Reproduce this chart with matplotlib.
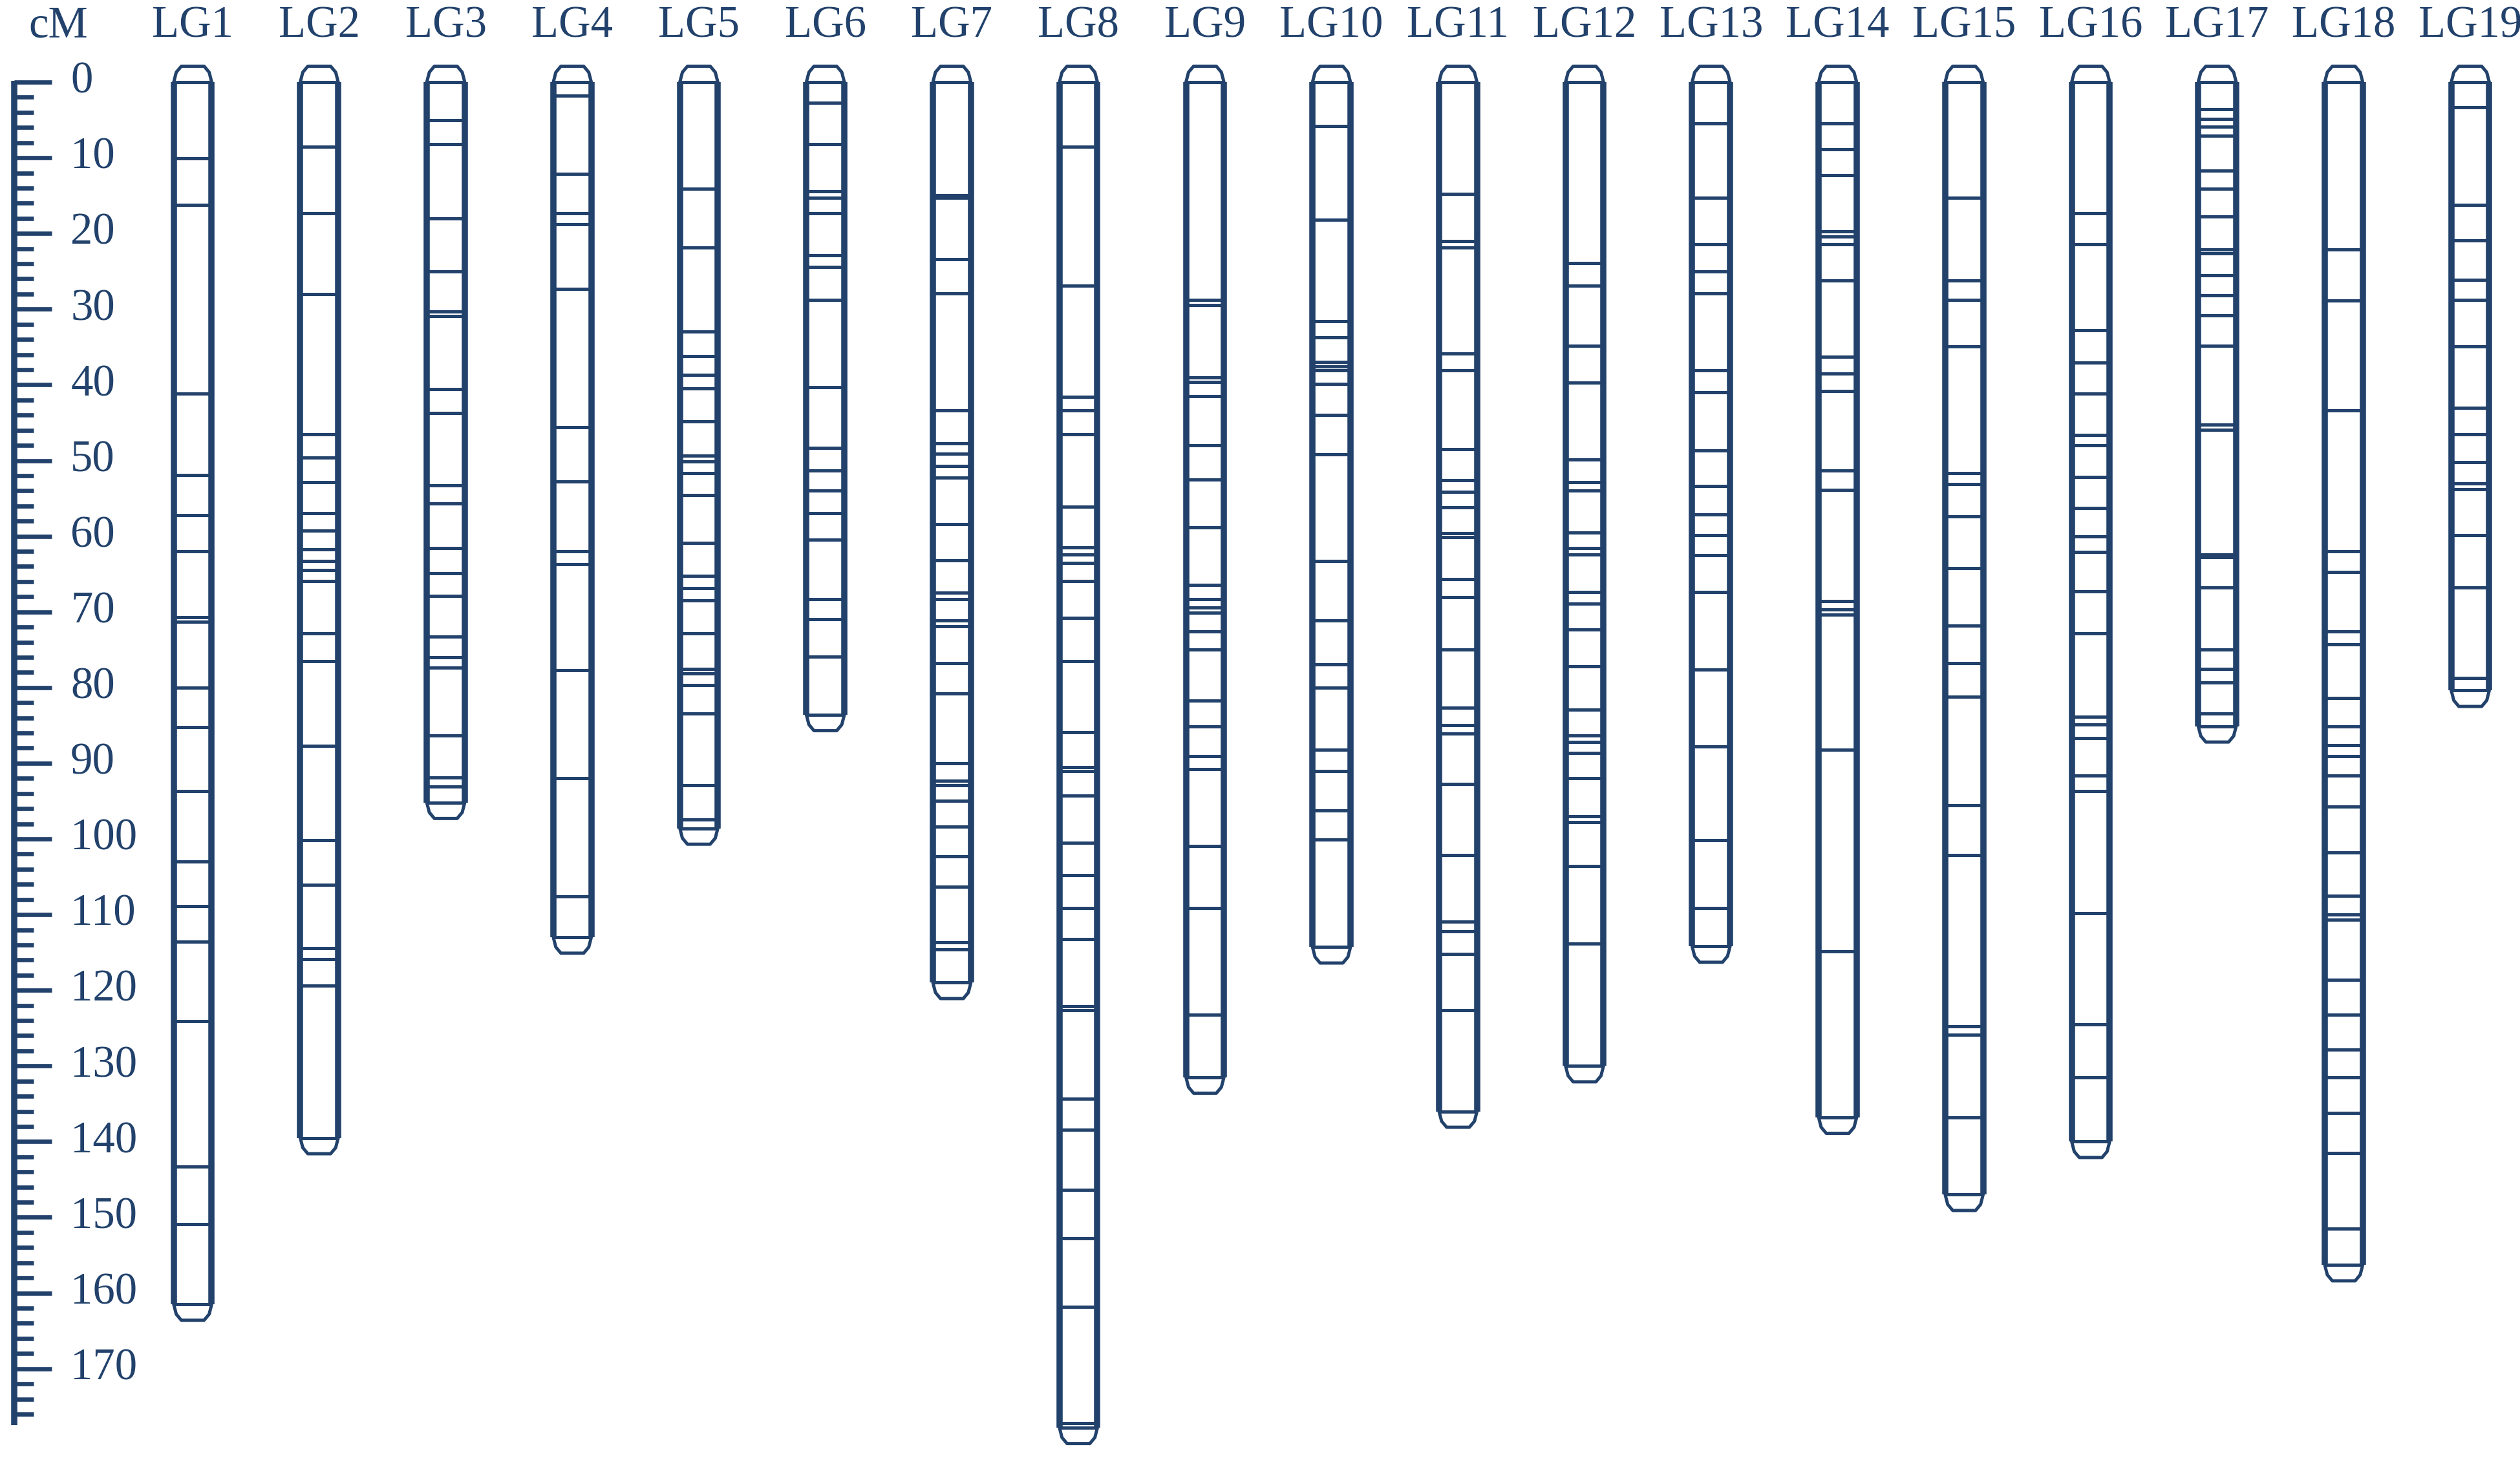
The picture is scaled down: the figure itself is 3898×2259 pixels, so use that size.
import numpy as np
import matplotlib
matplotlib.use('Agg')
import matplotlib.pyplot as plt

## marker positions (cM), first value = top, last value = end of group
lg1 = [0, 10.1, 16.2, 41.2, 51.9, 57.2, 62, 70.7, 71.3, 80, 85.2, 93.7, 103, 108.9, 113.6, 124.1, 143.3, 150.9, 161.5]
lg2 = [0, 8.5, 17.3, 28, 46.5, 49.6, 52.9, 57, 59.3, 61.7, 63.3, 64.5, 65.9, 72.8, 76.5, 87.7, 100.2,
       106.1, 114.4, 115.9, 119.4, 139.5]
lg3 = [0, 5, 8.2, 18, 25, 30.3, 30.9, 40.6, 43.7, 53.3, 55.7, 61.6, 64.9, 67.9, 73.3, 76, 77.4, 86.3,
       91.9, 93.1, 95.2]
lg4 = [0, 1.8, 12.1, 17.3, 18.8, 27.3, 45.6, 52.8, 62, 63.7, 77.7, 92, 107.6, 113]
lg5 = [0, 14.1, 21.9, 33, 36.2, 38.7, 40.5, 44.8, 49.4, 50.1, 51.7, 54.6, 60.9, 65.2, 66.9, 68.5, 72.8,
       77.5, 78.1, 79.7, 83.4, 92.9, 97.4, 98.6]
lg6 = [0, 2.7, 8.2, 14.4, 15.3, 17.3, 22.9, 24.4, 28.8, 40.3, 48.3, 51.3, 54, 57, 60.5, 68.3, 71, 75.9, 83.6]
lg7 = [0, 14.9, 15.3, 23.4, 27.9, 43.4, 47.7, 49.1, 50.7, 52.3, 58.4, 63.2, 67.5, 68.3, 71.1, 71.9, 76.8,
       80.8, 90, 92.3, 92.9, 95, 98.4, 102.3, 106.3, 113.7, 114.6, 119]
lg8 = [0, 8.5, 26.9, 41.6, 43.4, 46.5, 56.1, 61.5, 62.4, 63.5, 65.9, 70.8, 76.5, 85.9, 90.5, 91, 94.3,
       100.5, 104.8, 109.1, 113.2, 122.1, 122.6, 134.3, 138.4, 146.4, 152.8, 161.8, 177.2, 177.8]
lg9 = [0, 28.8, 29.5, 39, 39.6, 41.5, 48, 52.5, 58.8, 66.4, 68.3, 69.4, 70.1, 72.6, 75, 81.7, 85.1, 89.1,
       90.8, 100.9, 109.1, 123.2, 131.5]
lg10 = [0, 5.8, 18.2, 31.6, 33.7, 37, 37.6, 38.1, 39.9, 44, 49.2, 63.3, 71.1, 76.9, 80, 88.2, 91, 96.2,
        100.1, 114.3]
lg11 = [0, 14.8, 21, 21.9, 35.9, 38.1, 48.5, 52.6, 54.1, 56.2, 59.6, 60.1, 65.7, 68.1, 75, 82.7, 85, 86.1,
        92.7, 102.1, 110.9, 112.2, 115.2, 122.6, 136]
lg12 = [0, 23.9, 26.9, 34.8, 39.7, 49.9, 52.9, 54, 59.5, 61.6, 62.4, 67.4, 68.9, 72.3, 77.2, 82.9, 86.3,
        87.2, 88.6, 92, 97, 97.8, 103.6, 113.8, 130]
lg13 = [0, 5.5, 15.3, 21.4, 25, 27.9, 38.1, 41, 48.7, 53.4, 57.1, 59.9, 62.5, 67.4, 77.6, 87.8, 100.2,
        109.1, 114.2]
lg14 = [0, 5.5, 8.9, 12.3, 19.7, 20.4, 21.4, 26.2, 36.3, 38.5, 40.8, 51.3, 53.9, 68.6, 69.7, 70.4, 88.2,
        114.9, 136.8]
lg15 = [0, 15.3, 26.2, 28.8, 34.9, 51.7, 53.1, 57.4, 64.2, 71.8, 76.8, 81.2, 95.6, 102.1, 124.8, 125.9,
        136.8, 147]
lg16 = [0, 17.3, 21.4, 32.8, 37.1, 41.2, 46.6, 48, 52.2, 56.3, 60, 62.1, 67.3, 72.8, 83.9, 84.9, 86.7,
        91.6, 93.7, 109.8, 124.5, 131.5, 140]
lg17 = [0, 3.6, 4.9, 5.9, 7.1, 11.7, 14.1, 17.8, 22.1, 22.6, 25.5, 28.2, 30.8, 34.8, 45.3, 45.9, 62.4,
        62.8, 66.8, 75, 77.5, 79.3, 83.4, 85.1]
lg18 = [0, 22.1, 28.9, 43.4, 62, 64.7, 72.6, 74.3, 81.4, 85.1, 87.6, 89.1, 91.6, 95.7, 101.8, 107.5, 110,
        110.7, 118.6, 123.2, 127.8, 131.5, 136.2, 141.5, 151.5, 156.3]
lg19 = [0, 3.3, 16.2, 20.9, 26.1, 28.8, 34.9, 43, 46.5, 50.2, 53, 53.8, 59.9, 66.8, 78.7, 80.4]

lg_names = ['LG' + str(i) for i in range(1, 20)]
lg_markers = [lg1, lg2, lg3, lg4, lg5, lg6, lg7, lg8, lg9, lg10,
              lg11, lg12, lg13, lg14, lg15, lg16, lg17, lg18, lg19]

scale_labels = list(range(0, 171, 10))
minor_ticks = [v for v in range(0, 177, 2) if v % 10 != 0]

navy = '#22426c'
serif = ['Liberation Serif', 'DejaVu Serif']

fig = plt.figure(figsize=(3898 / 300, 2259 / 300), dpi=300)
ax = fig.add_axes([0, 0, 1, 1])
ax.set_xlim(-0.523, 19.393)
ax.set_ylim(182.07, -10.85)
ax.axis('off')

## ruler on the left
ruler_x = -0.41
ax.vlines(ruler_x, -0.2, 177.5, color=navy, lw=2.3)
ax.hlines(scale_labels, ruler_x, -0.114, color=navy, lw=1.6)
ax.hlines(minor_ticks, ruler_x, -0.257, color=navy, lw=1.6)
for v in scale_labels:
    ax.text(0.035, v, str(v), ha='left', va='center', fontsize=16.5, family=serif, color=navy)
ax.text(-0.06, -5.9, 'cM', ha='center', va='baseline', fontsize=16.5, family=serif, color=navy)

## linkage groups
w = 0.30
for i, (name, pos) in enumerate(zip(lg_names, lg_markers), start=1):
    end = max(pos)
    left, right = i - w / 2, i + w / 2
    ax.vlines([left, right], 0, end, color=navy, lw=2.3)
    ax.hlines(pos, left, right, color=navy, lw=1.2)
    # rounded end caps
    cx = [left, left + 0.02, left + 0.06, right - 0.06, right - 0.02, right]
    cy = [0, -1.3, -2.1, -2.1, -1.3, 0]
    ax.plot(cx, cy, color=navy, lw=1.2, solid_capstyle='round')
    ax.plot(cx, [end - c for c in cy], color=navy, lw=1.2, solid_capstyle='round')
    ax.text(i, -5.9, name, ha='center', va='baseline', fontsize=16.5, family=serif, color=navy)

fig.savefig('out.png', dpi=300, facecolor='white')
